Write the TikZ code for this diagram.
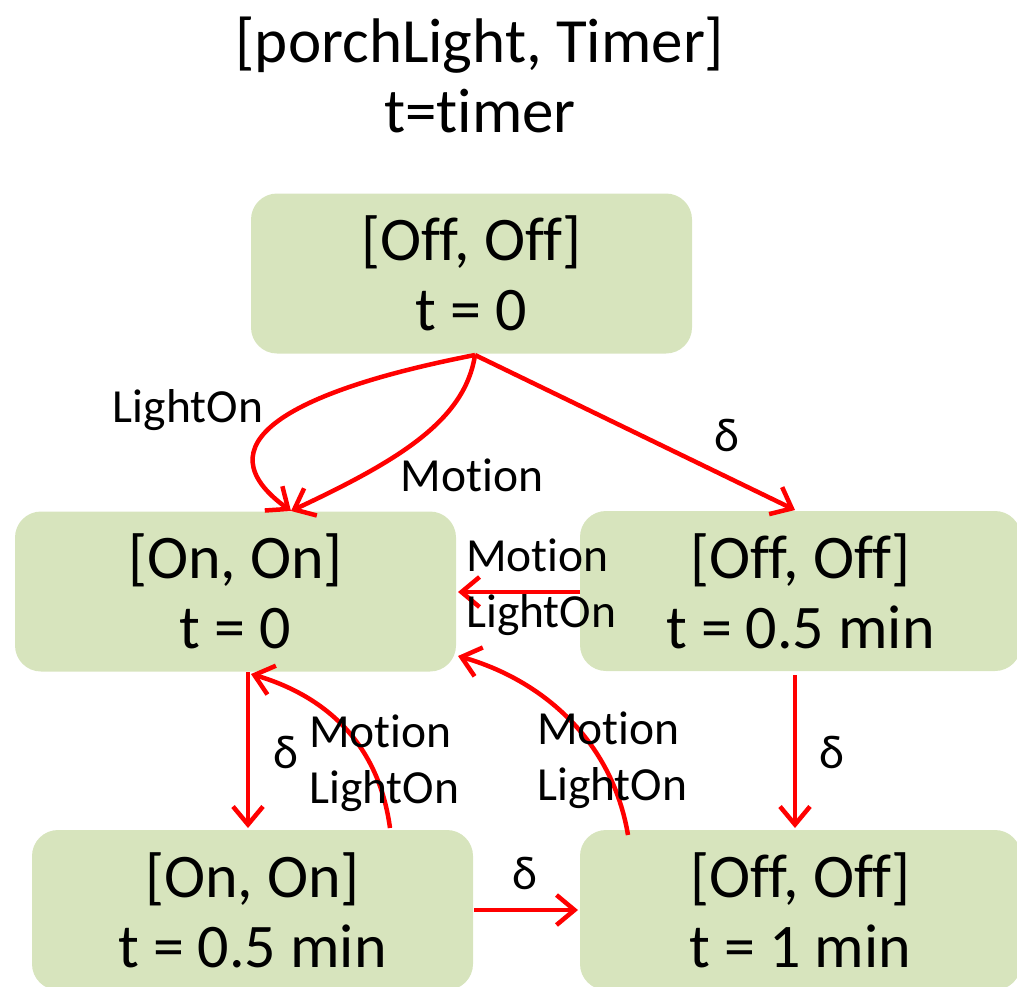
\documentclass[tikz,border=0pt]{standalone}
\usepackage{fontspec}
\setmainfont{Carlito}[Ligatures={NoCommon}]
\usetikzlibrary{arrows.meta}
\definecolor{boxgreen}{HTML}{D7E4BD}
\definecolor{arrred}{HTML}{FF0000}
\tikzset{
  statebox/.style={fill=boxgreen, draw=none, rounded corners=26pt, minimum width=441pt, minimum height=160pt, align=center, font=\fontsize{62}{70}\selectfont, inner sep=0pt},
  trans/.style={draw=arrred, line width=4.5pt, -{Straight Barb[length=18pt,width=30pt,line width=4.5pt]}},
  lbl/.style={font=\fontsize{47.5}{56}\selectfont, inner sep=0pt},
  lbll/.style={lbl, align=left, anchor=west},
  titletext/.style={font=\fontsize{63}{70}\selectfont, align=center, inner sep=0pt}
}
\begin{document}
\begin{tikzpicture}[x=1pt,y=-1pt]
\useasboundingbox (0,0) rectangle (1017,986);
\clip (0,0) rectangle (1017,986);
\node[titletext] (title) at (480,75) {[porchLight, Timer]\\t=timer};
\node[statebox] (s0) at (471.5,273.5) {[Off, Off]\\t = 0};
\node[statebox] (s1) at (235.5,591.5) {[On, On]\\t = 0};
\node[statebox] (s2) at (800.5,591) {[Off, Off]\\t = 0.5 min};
\node[statebox] (s3) at (252.5,910) {[On, On]\\t = 0.5 min};
\node[statebox] (s4) at (800.5,910) {[Off, Off]\\t = 1 min};
% anchor coordinates
\coordinate (s0b) at (475,355);
\coordinate (s1t) at (291,511);
\coordinate (s2t) at (795,510);
\coordinate (s1r) at (458,592);
\coordinate (s2l) at (580,592);
\coordinate (s1bl) at (248,672);
\coordinate (s3t) at (248,828);
\coordinate (s1bm) at (251,674);
\coordinate (s3tr) at (390,828);
\coordinate (s1br) at (458,656);
\coordinate (s4tl) at (628,835);
\coordinate (s2b) at (795,675);
\coordinate (s4t) at (795,828);
\coordinate (s3r) at (474,910);
\coordinate (s4l) at (578,910);
\draw[trans] (s0b) .. controls (285,392) and (200,445) .. (s1t);
\draw[trans] (s0b) .. controls (465,420) and (400,460) .. (s1t);
\draw[trans] (s0b) -- (s2t);
\draw[trans] (s2l) -- (s1r);
\draw[trans] (s1bl) -- (s3t);
\draw[trans] (s3tr) .. controls (378,740) and (322,695) .. (s1bm);
\draw[trans] (s4tl) .. controls (612,740) and (542,680) .. (s1br);
\draw[trans] (s2b) -- (s4t);
\draw[trans] (s3r) -- (s4l);
\node[lbl] (l1) at (188,410) {LightOn};
\node[lbl] (l2) at (472,475) {Motion};
\node[lbl] (l3) at (727,435) {δ};
\node[lbll] (l4) at (466,587) {Motion\\LightOn};
\node[lbl] (l5) at (286,752) {δ};
\node[lbll] (l6) at (309,763) {Motion\\LightOn};
\node[lbll] (l7) at (537,760) {Motion\\LightOn};
\node[lbl] (l8) at (832,752) {δ};
\node[lbl] (l9) at (525,873) {δ};
\end{tikzpicture}
\end{document}
